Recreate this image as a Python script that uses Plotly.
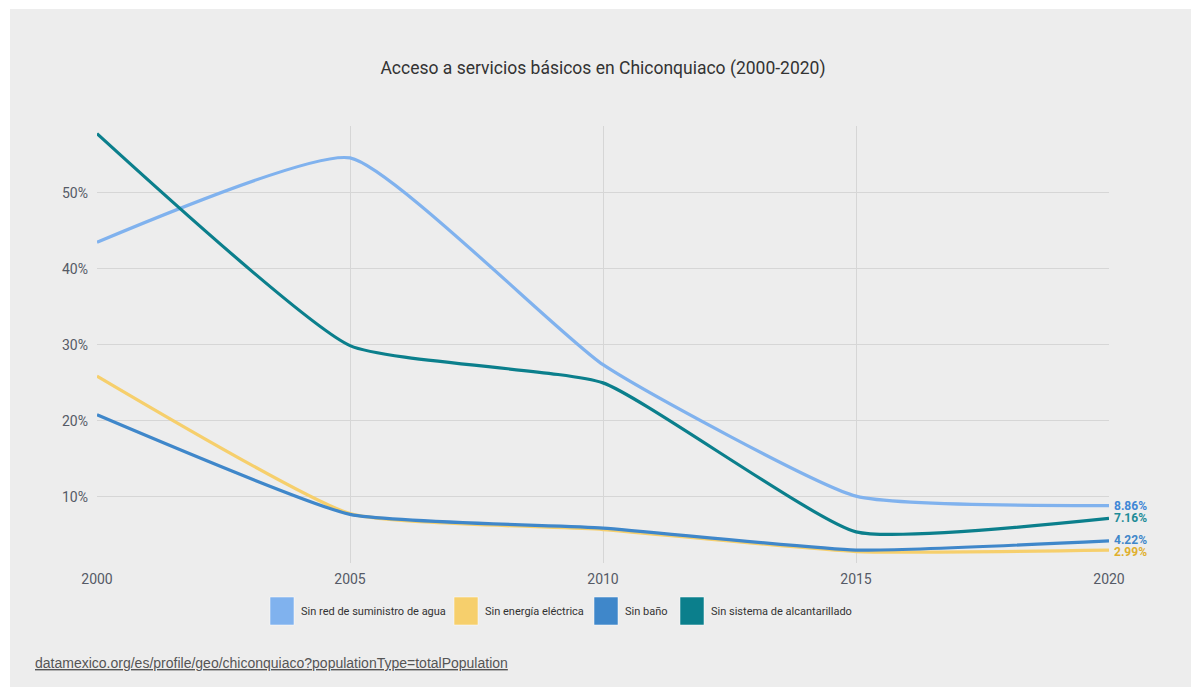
import plotly.graph_objects as go

years = [2000, 2005, 2010, 2015, 2020]
series_names = ["Sin red de suministro de agua", "Sin energía eléctrica", "Sin baño", "Sin sistema de alcantarillado"]
agua = [43.5, 54.6, 27.4, 10.1, 8.86]
electricidad = [25.9, 7.8, 5.7, 2.8, 2.99]
bano = [20.8, 7.7, 5.9, 3.0, 4.22]
alcantarillado = [57.8, 29.9, 25.0, 5.4, 7.16]
end_labels = ["8.86%", "2.99%", "4.22%", "7.16%"]
y_ticks = [10, 20, 30, 40, 50]
x_ticks = [2000, 2005, 2010, 2015, 2020]

line_colors = ["#80B2EE", "#F6CF6C", "#3F87CA", "#0B7F8C"]
label_colors = ["#3F87D6", "#E0B02E", "#3F87CA", "#1E8C98"]
values = [agua, electricidad, bano, alcantarillado]

FONT = "Roboto, Liberation Sans, sans-serif"

W, H = 1191, 687
L, R, T, B = 97, 82, 126, 124
pw, ph = W - L - R, H - T - B

def px(xp):
    return (xp - L) / pw

def py(yp):
    return (H - B - yp) / ph

def f(size, color):
    return dict(family=FONT, size=size, color=color)

fig = go.Figure()
for i in [0, 1, 3, 2]:
    fig.add_trace(go.Scatter(
        x=years, y=values[i], mode="lines", name=series_names[i],
        line=dict(color=line_colors[i], width=3.2, shape="spline", smoothing=0.45),
        hoverinfo="skip", showlegend=False, cliponaxis=False,
    ))

annotations = []
label_shift = [0, -2, 1, 0]
for i, v in enumerate(values):
    annotations.append(dict(
        x=years[-1], y=v[-1], xref="x", yref="y", text="<b>" + end_labels[i] + "</b>",
        showarrow=False, xanchor="left", yanchor="middle", xshift=3, yshift=label_shift[i],
        font=f(12, label_colors[i]),
    ))

shapes = []
shapes.append(dict(type="rect", xref="paper", yref="paper", x0=px(0), x1=px(10), y0=py(H), y1=py(0),
                   fillcolor="white", line=dict(width=0), layer="below"))
shapes.append(dict(type="rect", xref="paper", yref="paper", x0=px(0), x1=px(W), y0=py(9), y1=py(0),
                   fillcolor="white", line=dict(width=0), layer="below"))

# custom legend (square swatches like the reference)
text_w = [140, 96, 42, 141]  # approximate rendered text widths
sq_w, gap_t, gap_i = 24, 5, 15
total = sum(sq_w + gap_t + w for w in text_w) + gap_i * 3
x_cur = 560 - total / 2
leg_cy = 611
for i in range(4):
    shapes.append(dict(type="rect", xref="paper", yref="paper",
                       x0=px(x_cur), x1=px(x_cur + sq_w),
                       y0=py(leg_cy + 14), y1=py(leg_cy - 14),
                       fillcolor=line_colors[i], line=dict(color="rgba(255,255,255,0.5)", width=1)))
    annotations.append(dict(
        x=px(x_cur + sq_w + gap_t), y=py(leg_cy), xref="paper", yref="paper", text=series_names[i],
        showarrow=False, xanchor="left", yanchor="middle",
        font=f(11, "#333333"),
    ))
    x_cur += sq_w + gap_t + text_w[i] + gap_i

annotations.append(dict(
    x=px(33), y=py(663), xref="paper", yref="paper",
    text="<u>datamexico.org/es/profile/geo/chiconquiaco?populationType=totalPopulation</u>",
    showarrow=False, xanchor="left", yanchor="middle",
    font=dict(family="Liberation Sans, DejaVu Sans, sans-serif", size=14, color="#555555"),
))

fig.update_layout(
    width=W, height=H,
    margin=dict(l=L, r=R, t=T, b=B, pad=0),
    paper_bgcolor="#EDEDED", plot_bgcolor="#EDEDED",
    title=dict(text="Acceso a servicios básicos en Chiconquiaco (2000-2020)",
               x=0.5, xanchor="center", xref="paper", y=1 - 68 / H, yanchor="middle",
               font=f(17.5, "#333333")),
    showlegend=False,
    annotations=annotations,
    shapes=shapes,
    xaxis=dict(range=[2000, 2020], tickvals=x_ticks, ticktext=[str(t) for t in x_ticks],
               showgrid=True, gridcolor="#D6D6D6", gridwidth=1, zeroline=False, showline=False,
               ticks="", tickfont=f(14, "#555A66"), ticklabelstandoff=6),
    yaxis=dict(range=[1.3, 58.8], tickvals=y_ticks, ticktext=[f"{t}%" for t in y_ticks],
               showgrid=True, gridcolor="#D6D6D6", gridwidth=1, zeroline=False, showline=False,
               ticks="", tickfont=f(14, "#555A66"), ticklabelstandoff=8),
)

fig.write_html("out.html", config={"displayModeBar": False},
               post_script="document.body.style.margin='0';document.body.style.padding='0';")
